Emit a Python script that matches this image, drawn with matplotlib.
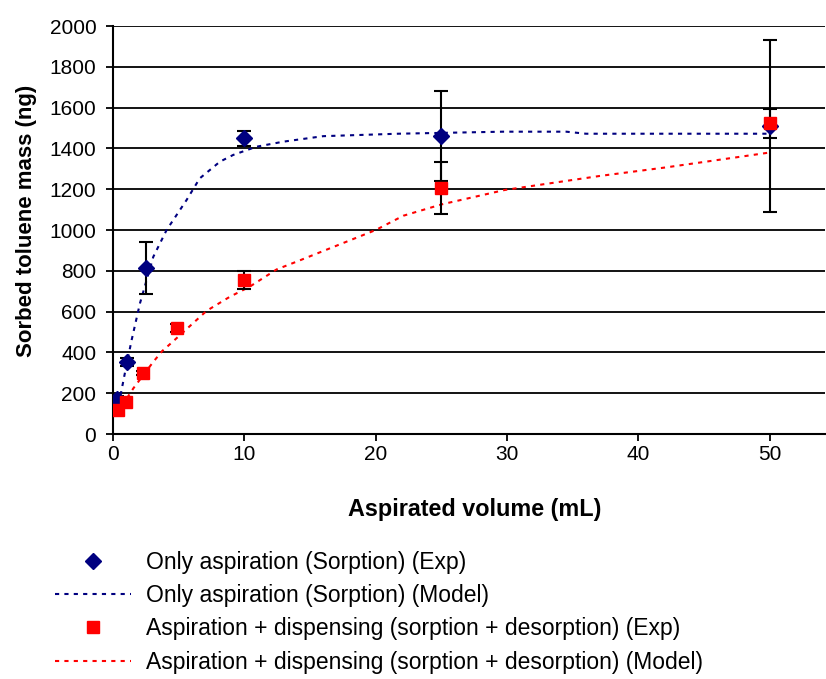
import matplotlib.pyplot as plt
from matplotlib.lines import Line2D

plt.rcParams['font.family'] = ['Liberation Sans', 'DejaVu Sans']

# experimental data
blueX = [0.3, 1.1, 2.5, 10, 25, 50]
blueY = [170, 351, 815, 1449, 1461, 1510]
blueErr = [15, 20, 127, 35, 220, 420]

redX = [0.35, 1.0, 2.3, 4.9, 10, 25, 50]
redY = [118, 158, 297, 518, 755, 1207, 1523]
redErr = [10, 10, 10, 20, 45, 127, 70]

# model curves
blueModelX = [0.3, 1.0, 1.42, 2.05, 3.07, 4.08, 5.6, 6.6, 8.14, 9.15, 10.9, 12.96, 16, 21.7, 29.7, 34.5, 36, 50]
blueModelY = [100, 330, 461, 640, 869, 1000, 1147, 1253, 1335, 1368, 1408, 1433, 1460, 1472, 1482, 1482, 1472, 1472]

redModelX = [0.3, 1.55, 3.07, 3.75, 4.47, 7.13, 8.9, 10.4, 12.46, 13.98, 20, 22.1, 25.04, 29.8, 37.06, 42.1, 47.2, 50]
redModelY = [100, 224, 354, 407, 448, 604, 673, 722, 807, 845, 1000, 1070, 1126, 1196, 1265, 1307, 1354, 1380]

navy = '#000080'
red = '#FF0000'
dots = (0, (2, 2.5))

fig = plt.figure(figsize=(8.26, 6.79), dpi=100)
ax = fig.add_axes([0.1368, 0.3608, 0.862, 0.6009])

for y in range(200, 2001, 200):
    ax.axhline(y, color='black', lw=1.3, zorder=1)

ax.plot(blueModelX, blueModelY, color=navy, lw=1.5, ls=dots, zorder=2)
ax.plot(redModelX, redModelY, color=red, lw=1.5, ls=dots, zorder=2)

ax.errorbar(blueX, blueY, yerr=blueErr, fmt='none', ecolor='black', elinewidth=1.5, capsize=5, capthick=1.5, zorder=3)
ax.errorbar(redX, redY, yerr=redErr, fmt='none', ecolor='black', elinewidth=1.5, capsize=5, capthick=1.5, zorder=3)
ax.plot(blueX, blueY, 'D', color=navy, markersize=8.5, zorder=4)
ax.plot(redX, redY, 's', color=red, markersize=8.5, zorder=5)

ax.set_xlim(0, 54.2)
ax.set_ylim(0, 2000)
ax.set_xticks(range(0, 51, 10))
ax.set_yticks(range(0, 2001, 200))
ax.tick_params(axis='both', direction='out', length=5, width=1.3, labelsize=15)
ax.tick_params(axis='y', pad=7)
ax.tick_params(axis='x', pad=3)
for side in ['top', 'right']:
    ax.spines[side].set_visible(False)
for side in ['left', 'bottom']:
    ax.spines[side].set_linewidth(1.5)

ax.set_xlabel('Aspirated volume (mL)', fontsize=16.8, fontweight='bold')
ax.set_ylabel('Sorbed toluene mass (ng)', fontsize=16, fontweight='bold')
ax.xaxis.set_label_coords(0.508, -0.157)
ax.yaxis.set_label_coords(-0.107, 0.522)

handles = [
    Line2D([], [], color=navy, marker='D', ls='none', markersize=8),
    Line2D([], [], color=navy, lw=1.5, ls=dots),
    Line2D([], [], color=red, marker='s', ls='none', markersize=8),
    Line2D([], [], color=red, lw=1.5, ls=dots),
]
labels = [
    'Only aspiration (Sorption) (Exp)',
    'Only aspiration (Sorption) (Model)',
    'Aspiration + dispensing (sorption + desorption) (Exp)',
    'Aspiration + dispensing (sorption + desorption) (Model)',
]
fig.legend(handles, labels, loc='upper left', bbox_to_anchor=(0.0666, 0.189),
           frameon=False, fontsize=16.5, handlelength=3.3, handletextpad=0.65,
           labelspacing=0.45, borderaxespad=0, borderpad=0)

fig.savefig('out.png', dpi=100)
